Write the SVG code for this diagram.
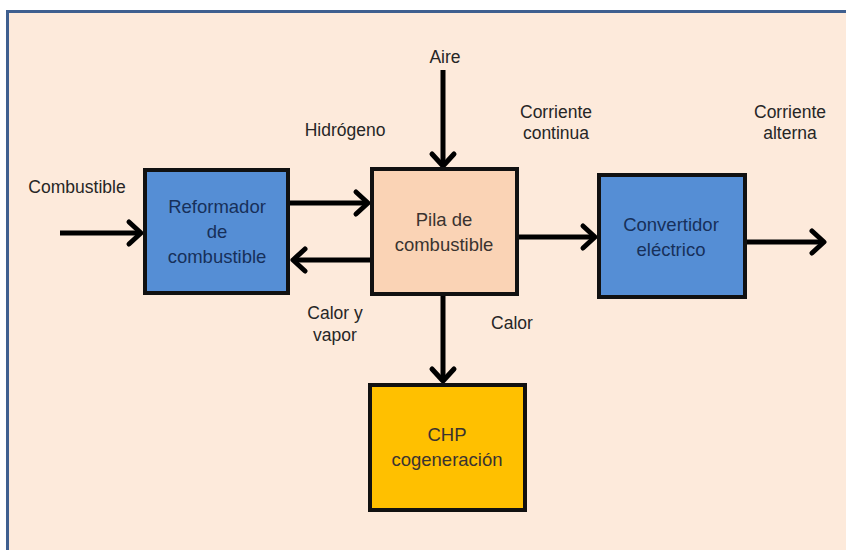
<svg xmlns="http://www.w3.org/2000/svg" width="846" height="550" viewBox="0 0 846 550">
<style>
.lbl{font-family:"Liberation Sans",Arial,sans-serif;font-size:17.5px;fill:#262626;text-anchor:middle}
.bt{font-family:"Liberation Sans",Arial,sans-serif;font-size:18.5px;text-anchor:middle}
.box{stroke:#111;stroke-width:4}
.conn{stroke:#000;stroke-width:5;fill:none}
</style>
<defs>
<marker id="ah" markerUnits="userSpaceOnUse" markerWidth="30" markerHeight="30" viewBox="-20 -15 30 30" refX="0" refY="0" orient="auto">
<path d="M-12,-11 L0,0 L-12,11" fill="none" stroke="#000" stroke-width="5" stroke-linecap="round" stroke-linejoin="round"/>
</marker>
</defs>
<rect x="0" y="0" width="846" height="550" fill="#ffffff"/>
<rect x="7.5" y="11.5" width="850" height="550" fill="#FDEADB" stroke="#3F5F8F" stroke-width="3"/>
<g id="connectors">
<path class="conn" d="M60,233 L141,233" marker-end="url(#ah)"/>
<path class="conn" d="M290,203 L368,203" marker-end="url(#ah)"/>
<path class="conn" d="M372,260 L293,260" marker-end="url(#ah)"/>
<path class="conn" d="M443,70 L443,166" marker-end="url(#ah)"/>
<path class="conn" d="M517,237 L595,237" marker-end="url(#ah)"/>
<path class="conn" d="M745,242 L824,242" marker-end="url(#ah)"/>
<path class="conn" d="M443,294 L443,381" marker-end="url(#ah)"/>
</g>
<g id="reformador">
<rect class="box" x="145" y="170" width="143" height="123" fill="#558ED5"/>
<text class="bt" fill="#17305A" x="217" y="213">Reformador</text>
<text class="bt" fill="#17305A" x="217" y="238">de</text>
<text class="bt" fill="#17305A" x="217" y="263">combustible</text>
</g>
<g id="pila">
<rect class="box" x="372" y="169" width="145" height="125" fill="#FAD3B5"/>
<text class="bt" fill="#3A3330" x="444" y="226">Pila de</text>
<text class="bt" fill="#3A3330" x="444" y="251">combustible</text>
</g>
<g id="convertidor">
<rect class="box" x="599" y="175" width="146" height="122" fill="#558ED5"/>
<text class="bt" fill="#17305A" x="671" y="231">Convertidor</text>
<text class="bt" fill="#17305A" x="671" y="256">eléctrico</text>
</g>
<g id="chp">
<rect class="box" x="370" y="385" width="155" height="125" fill="#FFC000"/>
<text class="bt" fill="#3A3330" x="447" y="441">CHP</text>
<text class="bt" fill="#3A3330" x="447" y="466">cogeneración</text>
</g>
<g id="labels">
<text class="lbl" x="445" y="63">Aire</text>
<text class="lbl" x="345" y="136">Hidrógeno</text>
<text class="lbl" x="556" y="118">Corriente</text>
<text class="lbl" x="556" y="139">continua</text>
<text class="lbl" x="790" y="118">Corriente</text>
<text class="lbl" x="790" y="139">alterna</text>
<text class="lbl" x="77" y="193">Combustible</text>
<text class="lbl" x="335" y="319">Calor y</text>
<text class="lbl" x="335" y="341">vapor</text>
<text class="lbl" x="512" y="329">Calor</text>
</g>
</svg>
